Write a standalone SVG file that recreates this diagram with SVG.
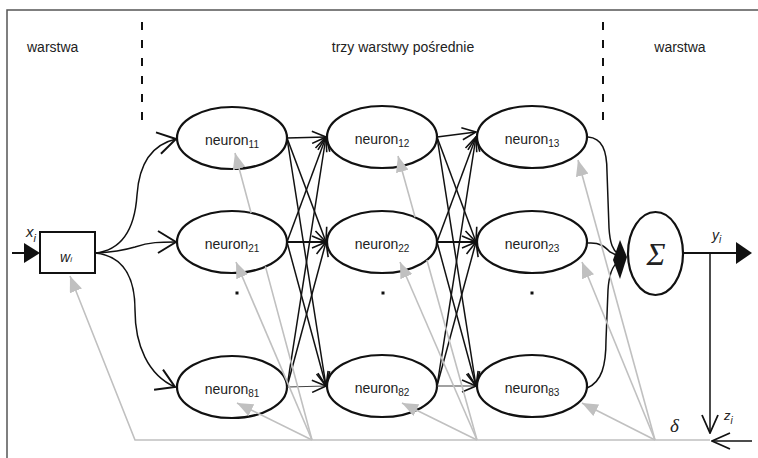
<svg xmlns="http://www.w3.org/2000/svg" width="758" height="458" viewBox="0 0 758 458">
<style>
text{font-family:"Liberation Sans",Arial,sans-serif;fill:#222}
.lbl{font-size:14px}
.nt{font-size:14px;text-anchor:middle}
.sub{font-size:10px}
.node{fill:#fff;stroke:#111;stroke-width:2.2}
.blk{fill:none;stroke:#111;stroke-width:1.5}
.thk{fill:none;stroke:#111;stroke-width:2.2}
.dim{fill:none;stroke:#444;stroke-width:1.2}
.gry{fill:none;stroke:#c0c0c0;stroke-width:1.6}
.dot{fill:#111}
</style>
<defs>
<marker id="op" viewBox="0 0 16 14" refX="15" refY="7" markerWidth="16" markerHeight="14" markerUnits="userSpaceOnUse" orient="auto"><path d="M1,1 L15,7 L1,13" fill="none" stroke="#111" stroke-width="1.6"/></marker>
<marker id="big" viewBox="0 0 20 24" refX="19" refY="12" markerWidth="20" markerHeight="24" markerUnits="userSpaceOnUse" orient="auto"><path d="M1,1 L19,12 L1,23" fill="none" stroke="#111" stroke-width="2"/></marker>
<marker id="zop" viewBox="0 0 20 20" refX="19" refY="10" markerWidth="20" markerHeight="20" markerUnits="userSpaceOnUse" orient="auto"><path d="M1,2 L19,10 L1,18" fill="none" stroke="#111" stroke-width="1.8"/></marker>
<marker id="gr" viewBox="0 0 16 13" refX="16" refY="6.5" markerWidth="16" markerHeight="13" markerUnits="userSpaceOnUse" orient="auto"><path d="M0,0 L16,6.5 L0,13 z" fill="#c0c0c0"/></marker>
</defs>

<g id="frame">
<path d="M7,458 V10 H758" fill="none" stroke="#555" stroke-width="1.5"/>
<line x1="142" y1="22" x2="142" y2="124" stroke="#111" stroke-width="2" stroke-dasharray="8 10"/>
<line x1="603" y1="22" x2="603" y2="124" stroke="#111" stroke-width="2" stroke-dasharray="8 10"/>
<text class="lbl" x="27" y="52">warstwa</text>
<text class="lbl" x="403" y="52" text-anchor="middle">trzy warstwy pośrednie</text>
<text class="lbl" x="680" y="52" text-anchor="middle">warstwa</text>
</g>

<g id="nodes">
<g id="input"><rect x="40" y="232" width="55" height="41" fill="#fff" stroke="#111" stroke-width="2"/><text x="60" y="262" font-size="14" font-style="italic">w<tspan font-size="8" dy="0">i</tspan></text></g>
<g id="n11"><ellipse class="node" cx="232" cy="138" rx="55" ry="31"/><text class="nt" x="232" y="145">neuron<tspan class="sub" dy="3">11</tspan></text></g>
<g id="n21"><ellipse class="node" cx="232" cy="242" rx="55" ry="31"/><text class="nt" x="232" y="249">neuron<tspan class="sub" dy="3">21</tspan></text></g>
<g id="n81"><ellipse class="node" cx="232" cy="387" rx="55" ry="31"/><text class="nt" x="232" y="394">neuron<tspan class="sub" dy="3">81</tspan></text></g>
<g id="n12"><ellipse class="node" cx="382" cy="137" rx="55" ry="31"/><text class="nt" x="382" y="144">neuron<tspan class="sub" dy="3">12</tspan></text></g>
<g id="n22"><ellipse class="node" cx="382" cy="242" rx="55" ry="31"/><text class="nt" x="382" y="249">neuron<tspan class="sub" dy="3">22</tspan></text></g>
<g id="n82"><ellipse class="node" cx="382" cy="386" rx="55" ry="31"/><text class="nt" x="382" y="393">neuron<tspan class="sub" dy="3">82</tspan></text></g>
<g id="n13"><ellipse class="node" cx="532" cy="137" rx="55" ry="31"/><text class="nt" x="532" y="144">neuron<tspan class="sub" dy="3">13</tspan></text></g>
<g id="n23"><ellipse class="node" cx="532" cy="242" rx="55" ry="31"/><text class="nt" x="532" y="249">neuron<tspan class="sub" dy="3">23</tspan></text></g>
<g id="n83"><ellipse class="node" cx="532" cy="386" rx="55" ry="31"/><text class="nt" x="532" y="393">neuron<tspan class="sub" dy="3">83</tspan></text></g>
<g id="dots"><rect class="dot" x="235.5" y="291.5" width="3" height="3"/><rect class="dot" x="381.5" y="291.5" width="3" height="3"/><rect class="dot" x="530.5" y="291.5" width="3" height="3"/></g>
<g id="sum"><ellipse class="node" cx="655.5" cy="253.5" rx="27.5" ry="41.5"/><text x="656" y="265" font-family="Liberation Serif,serif" font-size="32" font-style="italic" text-anchor="middle" style="font-family:'Liberation Serif',serif">Σ</text></g>
</g>

<g id="connectors">
<!-- input -->
<line x1="12" y1="253" x2="25" y2="253" stroke="#111" stroke-width="2"/>
<polygon points="24,243 40,253 24,263" fill="#111"/>
<text x="26" y="237" font-size="15" font-style="italic">x<tspan font-size="11" dy="5">i</tspan></text>
<path class="blk" d="M95,253 C125,250 135,225 137,195 C139,165 150,145 176,139" marker-end="url(#big)" stroke-width="1.8"/>
<path class="blk" d="M95,253 C115,252 125,250 135,247 C150,242 160,242 176,242" marker-end="url(#big)" stroke-width="1.8"/>
<path class="blk" d="M95,253 C125,256 135,280 135,310 C135,345 148,375 175,387" marker-end="url(#big)" stroke-width="1.8"/>
<!-- layer1 -> layer2 -->
<path class="blk" d="M287,138 L326,137" marker-end="url(#op)"/>
<path class="blk" d="M287,138 L326,242" marker-end="url(#op)"/>
<path class="blk" d="M287,138 L326,386" marker-end="url(#op)"/>
<path class="blk" d="M287,242 L326,137" marker-end="url(#op)"/>
<path class="thk" d="M287,242 L326,242" marker-end="url(#op)"/>
<path class="blk" d="M287,242 L326,386" marker-end="url(#op)"/>
<path class="blk" d="M287,387 L326,137" marker-end="url(#op)"/>
<path class="blk" d="M287,387 L326,242" marker-end="url(#op)"/>
<path class="dim" d="M287,387 L326,386" marker-end="url(#op)"/>
<!-- layer2 -> layer3 -->
<path class="blk" d="M437,137 L476,132" marker-end="url(#op)"/>
<path class="blk" d="M437,137 L476,242" marker-end="url(#op)"/>
<path class="blk" d="M437,137 L476,386" marker-end="url(#op)"/>
<path class="blk" d="M437,242 L476,137" marker-end="url(#op)"/>
<path class="thk" d="M437,242 L476,242" marker-end="url(#op)"/>
<path class="blk" d="M437,242 L476,386" marker-end="url(#op)"/>
<path class="blk" d="M437,386 L476,137" marker-end="url(#op)"/>
<path class="blk" d="M437,386 L476,242" marker-end="url(#op)"/>
<path class="dim" d="M437,386 L476,386" marker-end="url(#op)"/>
<!-- layer3 -> sum -->
<path class="blk" d="M588,137 C602,138 607,150 607,172 L609,228 C610,244 613,250 618,254" stroke-width="1.8"/>
<path class="blk" d="M588,243 C600,242 605,247 610,252 L618,256" stroke-width="1.8"/>
<path class="blk" d="M587,388 C602,382 606,365 606,340 L608,290 C609,275 612,266 618,262" stroke-width="1.8"/>
<polygon points="613,260 620,240 627,257 620,279" fill="#111"/>
<!-- output -->
<line x1="683" y1="253" x2="737" y2="253" stroke="#111" stroke-width="2"/>
<polygon points="736,242 752,253 736,264" fill="#111"/>
<text x="712" y="240" font-size="14" font-style="italic">y<tspan font-size="10" dy="3">i</tspan></text>
<path class="blk" d="M710,253 V433" marker-end="url(#zop)"/>
<path class="blk" d="M752,441 H712" marker-end="url(#zop)" stroke-width="1.8"/>
<text x="724" y="420" font-size="13" font-style="italic">z<tspan font-size="10" dy="4">i</tspan></text>
<text x="670" y="432" font-size="19" font-style="italic" style="font-family:'Liberation Serif',serif">δ</text>
<!-- error feedback (grey) -->
<path class="gry" d="M710,440 H135 L70,276" marker-end="url(#gr)"/>
<path class="gry" d="M312,440 L265.4,266.4 M251.1,213 L235,153" marker-end="url(#gr)"/>
<path class="gry" d="M312,440 L236,262" marker-end="url(#gr)"/>
<path class="gry" d="M312,440 L237,403" marker-end="url(#gr)"/>
<path class="gry" d="M477,440 L426.9,260 M415.1,217.3 L398,156" marker-end="url(#gr)"/>
<path class="gry" d="M477,440 L400,262" marker-end="url(#gr)"/>
<path class="gry" d="M477,440 L402,403" marker-end="url(#gr)"/>
<path class="gry" d="M655,440 L578,160" marker-end="url(#gr)"/>
<path class="gry" d="M655,440 L582,262" marker-end="url(#gr)"/>
<path class="gry" d="M655,440 L582,403" marker-end="url(#gr)"/>
</g>
</svg>
